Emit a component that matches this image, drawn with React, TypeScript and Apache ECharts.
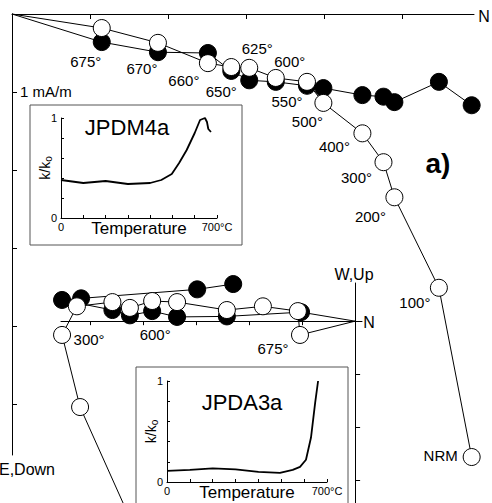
import React, { useEffect, useRef } from 'react';
import * as echarts from 'echarts';

const FONT = "'Liberation Sans', Arial, Helvetica, sans-serif";

// ---- Upper Zijderveld diagram (JPDM4a), units: mA/m ----
const upperSteps = ['NRM', '100°', '200°', '300°', '400°', '500°', '550°', '600°', '625°', '650°', '660°', '670°', '675°', ''];
const upperNorth = [5.89, 5.47, 4.9, 4.76, 4.49, 3.99, 3.78, 3.38, 3.04, 2.81, 2.51, 1.87, 1.15, 0];
const upperDown = [5.68, 3.51, 2.35, 1.9, 1.53, 1.14, 0.87, 0.82, 0.69, 0.68, 0.63, 0.37, 0.18, 0];
const upperEast = [1.17, 0.87, 1.13, 1.06, 1.04, 0.95, 0.92, 0.87, 0.85, 0.73, 0.5, 0.49, 0.36, 0];
const upperLabelOffsets = [[-31, -2], [-24, 15], [-24, 19], [-27, 15], [-28, 13], [-16, 19], [-20, 20], [14, -16], [8, -19], [-10, 24], [-24, 17], [-16, 26], [-16, 33], [0, 0]];

// ---- Lower Zijderveld diagram (JPDA3a) ----
const lowerOpenLabels = ['', '', '', '300°', '', '', '', '600°', '', '', '', '', '675°', ''];
const lowerOpenNorth = [-2.3, -2.98, -5.19, -5.53, -5.25, -4.58, -4.25, -3.83, -3.36, -2.42, -1.74, -1.08, -1.04, 0];
const lowerOpenUp = [-8.08, -6.55, -1.62, -0.26, 0.28, 0.36, 0.25, 0.38, 0.36, 0.21, 0.28, 0.19, -0.26, 0];
const lowerOpenLabelOffsets = [[0, 0], [0, 0], [0, 0], [27, 5], [0, 0], [0, 0], [0, 0], [3, 33], [0, 0], [0, 0], [0, 0], [0, 0], [-27, 14], [0, 0]];
const lowerFilledNorth = [-2.3, -2.98, -5.17, -5.53, -4.58, -4.25, -3.83, -3.36, -2.42, -1.02, 0];
const lowerFilledWest = [0.7, 0.6, 0.43, 0.4, 0.21, 0.11, 0.19, 0.08, 0.09, 0.17, 0];

// ---- Susceptibility insets ----
const dm4Temp = [0, 50, 100, 150, 200, 250, 300, 350, 400, 450, 497, 530, 564, 600, 624, 646, 655, 661, 673];
const dm4K = [0.38, 0.365, 0.35, 0.36, 0.37, 0.355, 0.34, 0.345, 0.35, 0.38, 0.44, 0.55, 0.68, 0.85, 0.98, 1.0, 0.96, 0.89, 0.86];
const da3Temp = [0, 100, 200, 300, 400, 494, 550, 582, 608, 630, 648, 661];
const da3K = [0.11, 0.12, 0.135, 0.125, 0.1, 0.09, 0.12, 0.15, 0.22, 0.44, 0.78, 1.0];

const near = (v: number, t: number) => Math.abs(v - t) < 1e-6;

export default function App() {
  const ref = useRef<HTMLDivElement>(null);
  useEffect(() => {
    document.body.style.margin = '0';
    const chart = echarts.init(ref.current!, null, { renderer: 'svg' });
    const black = '#000';
    const axisLineStyle = { color: black, width: 1 };

    const openItem = { color: '#fff', borderColor: black, borderWidth: 1 };
    const filledItem = { color: black, borderColor: black, borderWidth: 1 };

    const upperFilledData = upperNorth.map((n, i) =>
      i === upperNorth.length - 1 ? { value: [n, upperEast[i]], symbol: 'none' } : { value: [n, upperEast[i]] }
    );
    const upperOpenData = upperNorth.map((n, i) => ({
      value: [n, upperDown[i]],
      symbol: i === upperNorth.length - 1 ? 'none' : 'circle',
      label: { show: !!upperSteps[i], formatter: upperSteps[i], offset: upperLabelOffsets[i] },
    }));
    const lowerFilledData = lowerFilledNorth.map((n, i) =>
      i === lowerFilledNorth.length - 1 ? { value: [n, lowerFilledWest[i]], symbol: 'none' } : { value: [n, lowerFilledWest[i]] }
    );
    const lowerOpenData = lowerOpenNorth.map((n, i) => ({
      value: [n, lowerOpenUp[i]],
      symbol: i === lowerOpenNorth.length - 1 ? 'none' : 'circle',
      label: { show: !!lowerOpenLabels[i], formatter: lowerOpenLabels[i], offset: lowerOpenLabelOffsets[i] },
    }));

    const insetX = (gridIndex: number) => ({
      gridIndex,
      type: 'value',
      min: 0,
      max: 700,
      interval: 100,
      axisLine: { show: true, onZero: false, lineStyle: axisLineStyle },
      axisTick: { show: true, inside: true, length: 3, lineStyle: { color: black } },
      axisLabel: {
        color: black,
        fontSize: 11,
        margin: 3,
        fontFamily: FONT,
        formatter: (v: number) => (near(v, 0) ? '0' : near(v, 700) ? '700°C' : ''),
      },
      splitLine: { show: false },
      name: 'Temperature',
      nameLocation: 'middle',
      nameGap: 2,
      nameMoveOverlap: false,
      nameTextStyle: { fontSize: 17, color: black, fontFamily: FONT },
    });
    const insetY = (gridIndex: number) => ({
      gridIndex,
      type: 'value',
      min: 0,
      max: 1,
      interval: 0.2,
      axisLine: { show: true, onZero: false, lineStyle: axisLineStyle },
      axisTick: { show: true, inside: true, length: 3, lineStyle: { color: black } },
      axisLabel: {
        color: black,
        fontSize: 11,
        margin: 4,
        fontFamily: FONT,
        formatter: (v: number) => (near(v, 0) ? '0' : near(v, 1) ? '1' : ''),
      },
      splitLine: { show: false },
      name: 'k/k{s|o}',
      nameLocation: 'middle',
      nameRotate: 90,
      nameGap: 8,
      nameMoveOverlap: false,
      nameTextStyle: {
        fontSize: 14,
        color: black,
        fontFamily: FONT,
        rich: { s: { fontSize: 10, color: black, fontFamily: FONT, verticalAlign: 'bottom', lineHeight: 16 } },
      },
    });

    const txt = (text: string, x: number, y: number, fontSize: number, fontWeight = 'normal') => ({
      type: 'text',
      x,
      y,
      silent: true,
      style: { text, fontSize, fontWeight, fontFamily: FONT, fill: black, align: 'center', verticalAlign: 'middle' },
    });

    const option: any = {
      animation: false,
      textStyle: { fontFamily: FONT },
      grid: [
        { left: 12, top: 14, width: 462, height: 441 },
        { left: 61, top: 283, width: 301, height: 220 },
        { left: 61, top: 118, width: 156, height: 100 },
        { left: 167, top: 381, width: 160, height: 101 },
      ],
      xAxis: [
        {
          gridIndex: 0,
          type: 'value',
          min: 0,
          max: 5.92,
          position: 'top',
          axisLine: { show: true, onZero: false, lineStyle: axisLineStyle },
          axisTick: { show: true, inside: true, length: 5, customValues: [1, 2, 3, 4, 5], lineStyle: { color: black } },
          axisLabel: { show: false },
          splitLine: { show: false },
        },
        {
          gridIndex: 1,
          type: 'value',
          min: -5.55,
          max: 0.13,
          position: 'bottom',
          axisLine: { show: true, onZero: true, lineStyle: axisLineStyle },
          axisTick: { show: true, inside: false, length: 4, customValues: [-5, -4, -3, -2, -1], lineStyle: { color: black } },
          axisLabel: { show: false },
          splitLine: { show: false },
        },
        insetX(2),
        insetX(3),
      ],
      yAxis: [
        {
          gridIndex: 0,
          type: 'value',
          min: 0,
          max: 5.654,
          inverse: true,
          position: 'left',
          axisLine: { show: true, onZero: false, lineStyle: axisLineStyle },
          axisTick: { show: true, inside: true, length: 5, customValues: [1, 2, 3, 4, 5], lineStyle: { color: black } },
          axisLabel: {
            show: true,
            inside: true,
            customValues: [1],
            formatter: () => '1 mA/m',
            fontSize: 15,
            margin: 8,
            color: black,
            fontFamily: FONT,
          },
          splitLine: { show: false },
        },
        {
          gridIndex: 1,
          type: 'value',
          min: -3.43,
          max: 0.72,
          position: 'left',
          axisLine: { show: true, onZero: true, lineStyle: axisLineStyle },
          axisTick: { show: true, inside: true, length: 5, customValues: [-3, -2, -1], lineStyle: { color: black } },
          axisLabel: { show: false },
          splitLine: { show: false },
        },
        insetY(2),
        insetY(3),
      ],
      series: [
        {
          type: 'line',
          xAxisIndex: 0,
          yAxisIndex: 0,
          data: upperFilledData,
          symbol: 'circle',
          symbolSize: 17,
          itemStyle: filledItem,
          lineStyle: { color: black, width: 1 },
          clip: false,
          silent: true,
          z: 2,
        },
        {
          type: 'line',
          xAxisIndex: 0,
          yAxisIndex: 0,
          data: upperOpenData,
          symbol: 'circle',
          symbolSize: 17,
          itemStyle: openItem,
          lineStyle: { color: black, width: 1 },
          label: { position: 'inside', fontSize: 15, color: black, fontFamily: FONT },
          clip: false,
          silent: true,
          z: 3,
        },
        {
          type: 'line',
          xAxisIndex: 1,
          yAxisIndex: 1,
          data: lowerFilledData,
          symbol: 'circle',
          symbolSize: 17,
          itemStyle: filledItem,
          lineStyle: { color: black, width: 1 },
          clip: false,
          silent: true,
          z: 2,
        },
        {
          type: 'line',
          xAxisIndex: 1,
          yAxisIndex: 1,
          data: lowerOpenData,
          symbol: 'circle',
          symbolSize: 17,
          itemStyle: openItem,
          lineStyle: { color: black, width: 1 },
          label: { position: 'inside', fontSize: 15, color: black, fontFamily: FONT },
          clip: false,
          silent: true,
          z: 3,
        },
        {
          type: 'line',
          xAxisIndex: 2,
          yAxisIndex: 2,
          data: dm4Temp.map((t, i) => [t, dm4K[i]]),
          showSymbol: false,
          symbol: 'none',
          lineStyle: { color: black, width: 1.8 },
          silent: true,
        },
        {
          type: 'line',
          xAxisIndex: 3,
          yAxisIndex: 3,
          data: da3Temp.map((t, i) => [t, da3K[i]]),
          showSymbol: false,
          symbol: 'none',
          lineStyle: { color: black, width: 1.8 },
          silent: true,
        },
      ],
      graphic: [
        { type: 'rect', silent: true, shape: { x: 30, y: 105, width: 212, height: 140 }, style: { fill: 'none', stroke: '#555', lineWidth: 1 } },
        { type: 'rect', silent: true, shape: { x: 136, y: 367, width: 212, height: 160 }, style: { fill: 'none', stroke: '#555', lineWidth: 1 } },
        txt('JPDM4a', 127, 127, 22),
        txt('JPDA3a', 242, 402, 22),
        txt('a)', 438, 163, 28, 'bold'),
        txt('N', 484, 16, 16),
        txt('E,Down', 27, 469, 16),
        txt('W,Up', 354, 274, 16),
        txt('N', 369, 322, 16),
      ],
    };
    chart.setOption(option);
    return () => chart.dispose();
  }, []);
  return <div ref={ref} style={{ width: 492, height: 503 }} />;
}
